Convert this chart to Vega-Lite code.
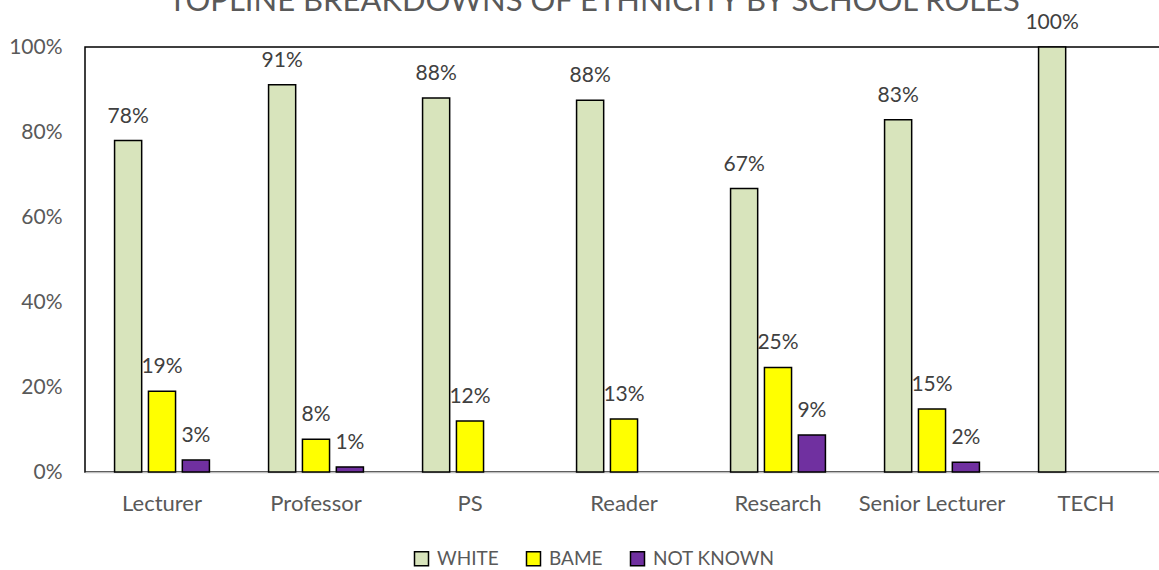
{
  "$schema": "https://vega.github.io/schema/vega-lite/v6.json",
  "autosize": {"type": "none"},
  "padding": {"left": 85, "top": 47, "right": 0, "bottom": 98},
  "width": 1078,
  "height": 425,
  "config": {
    "font": "Lato",
    "view": {"stroke": "#000000", "strokeWidth": 1.5}
  },
  "title": {
    "text": "TOPLINE BREAKDOWNS OF ETHNICITY BY SCHOOL ROLES",
    "fontSize": 31,
    "fontWeight": "normal",
    "color": "#595959",
    "font": "Lato",
    "baseline": "alphabetic",
    "offset": 0,
    "anchor": "middle",
    "dx": -30,
    "dy": 30
  },
  "data": {
    "values": [
      {"role": "Lecturer", "group": "WHITE", "value": 0.78},
      {"role": "Lecturer", "group": "BAME", "value": 0.19},
      {"role": "Lecturer", "group": "NOT KNOWN", "value": 0.028},
      {"role": "Professor", "group": "WHITE", "value": 0.911},
      {"role": "Professor", "group": "BAME", "value": 0.077},
      {"role": "Professor", "group": "NOT KNOWN", "value": 0.012},
      {"role": "PS", "group": "WHITE", "value": 0.88},
      {"role": "PS", "group": "BAME", "value": 0.12},
      {"role": "PS", "group": "NOT KNOWN", "value": 0},
      {"role": "Reader", "group": "WHITE", "value": 0.875},
      {"role": "Reader", "group": "BAME", "value": 0.125},
      {"role": "Reader", "group": "NOT KNOWN", "value": 0},
      {"role": "Research", "group": "WHITE", "value": 0.667},
      {"role": "Research", "group": "BAME", "value": 0.246},
      {"role": "Research", "group": "NOT KNOWN", "value": 0.087},
      {"role": "Senior Lecturer", "group": "WHITE", "value": 0.829},
      {"role": "Senior Lecturer", "group": "BAME", "value": 0.148},
      {"role": "Senior Lecturer", "group": "NOT KNOWN", "value": 0.023},
      {"role": "TECH", "group": "WHITE", "value": 1.0},
      {"role": "TECH", "group": "BAME", "value": 0},
      {"role": "TECH", "group": "NOT KNOWN", "value": 0}
    ]
  },
  "transform": [{"filter": "datum.value > 0"}],
  "encoding": {
    "x": {
      "field": "role",
      "type": "nominal",
      "sort": null,
      "scale": {"paddingInner": 0.34, "paddingOuter": 0.17},
      "axis": {
        "title": null,
        "labelAngle": 0,
        "labelFontSize": 22,
        "labelColor": "#595959",
        "labelPadding": 21,
        "ticks": false,
        "domainColor": "#BFBFBF",
        "domainWidth": 1.5,
        "grid": false
      }
    },
    "xOffset": {
      "field": "group",
      "type": "nominal",
      "sort": ["WHITE", "BAME", "NOT KNOWN"],
      "scale": {"paddingInner": 0.2, "paddingOuter": 0.1}
    },
    "y": {
      "field": "value",
      "type": "quantitative",
      "scale": {"domain": [0, 1], "nice": false},
      "axis": {
        "title": null,
        "values": [0, 0.2, 0.4, 0.6, 0.8, 1.0],
        "format": ".0%",
        "labelFontSize": 21,
        "labelColor": "#595959",
        "labelPadding": 23,
        "ticks": false,
        "domain": false,
        "grid": false
      }
    }
  },
  "layer": [
    {
      "mark": {"type": "bar", "stroke": "#000000", "strokeWidth": 1.5},
      "encoding": {
        "color": {
          "field": "group",
          "type": "nominal",
          "sort": ["WHITE", "BAME", "NOT KNOWN"],
          "scale": {
            "domain": ["WHITE", "BAME", "NOT KNOWN"],
            "range": ["#D8E4BC", "#FFFF00", "#7030A0"]
          },
          "legend": {
            "title": null,
            "orient": "none",
            "direction": "horizontal",
            "legendX": 327,
            "legendY": 502,
            "symbolType": "square",
            "symbolSize": 196,
            "symbolStrokeColor": "#000000",
            "symbolStrokeWidth": 1.5,
            "symbolOpacity": 1,
            "labelFontSize": 19,
            "labelColor": "#595959",
            "labelOffset": 6,
            "columnPadding": 24
          }
        }
      }
    },
    {
      "mark": {"type": "text", "baseline": "middle", "dy": -24, "fontSize": 21, "color": "#404040"},
      "encoding": {
        "text": {"field": "value", "type": "quantitative", "format": ".0%"}
      }
    }
  ]
}
